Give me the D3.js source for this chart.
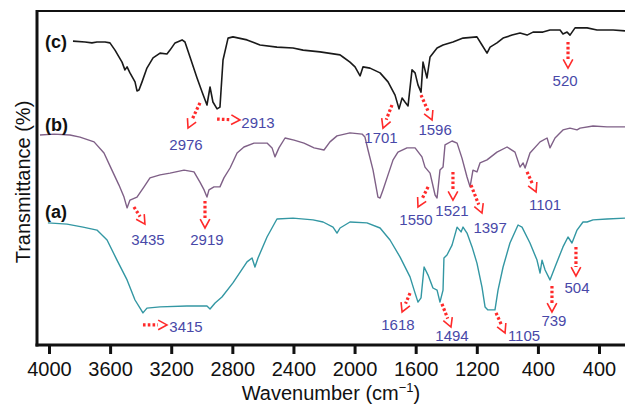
<!DOCTYPE html>
<html>
<head>
<meta charset="utf-8">
<script src="https://cdn.jsdelivr.net/npm/d3@7/dist/d3.min.js"></script>
<style>
  body { margin: 0; background: #fff; }
  svg { display: block; font-family: 'Liberation Sans', Arial, sans-serif; }
</style>
</head>
<body>
<div id="chart"></div>
<script>
// Spectra: [wavenumber, transmittance (offset, a.u.)]
var specC = [[3843,101.3],[3764,101.0],[3719,100.7],[3686,101.0],[3633,101.0],[3601,100.7],[3568,98.3],[3522,94.3],[3503,91.7],[3489,92.7],[3470,90.7],[3437,87.7],[3424,84.7],[3411,85.0],[3391,87.7],[3359,92.3],[3319,95.7],[3273,97.3],[3228,97.0],[3208,98.3],[3175,100.7],[3129,101.7],[3110,101.0],[3077,96.0],[3031,89.0],[2998,84.3],[2966,80.0],[2946,86.0],[2927,81.0],[2900,78.7],[2881,79.3],[2861,95.0],[2828,102.3],[2796,102.7],[2704,101.7],[2619,100.0],[2508,99.3],[2403,99.0],[2337,98.3],[2226,97.7],[2095,96.7],[2076,96.0],[2030,94.3],[1997,92.7],[1964,89.7],[1945,92.7],[1899,92.3],[1833,90.7],[1781,87.7],[1735,83.3],[1709,78.7],[1689,82.3],[1670,81.0],[1650,79.7],[1624,91.7],[1604,90.7],[1585,86.7],[1565,84.3],[1552,94.3],[1526,89.0],[1506,96.0],[1460,99.0],[1421,100.0],[1356,101.0],[1290,102.3],[1199,102.7],[1166,100.0],[1133,97.3],[1113,99.3],[1068,100.7],[1028,102.3],[969,103.3],[917,104.0],[871,103.3],[832,104.3],[767,104.3],[721,105.0],[655,105.0],[636,103.7],[609,104.3],[590,103.3],[557,105.7],[478,105.7],[413,105.0],[308,105.0],[230,104.7]];

var specB = [[4059,70.0],[3967,70.3],[3863,70.0],[3797,69.3],[3705,67.7],[3640,64.0],[3588,58.3],[3542,53.3],[3509,49.3],[3489,45.7],[3470,48.3],[3424,49.3],[3378,52.7],[3339,55.7],[3273,56.7],[3208,57.3],[3116,58.3],[3051,57.7],[3012,54.3],[2985,51.7],[2966,49.3],[2953,51.7],[2920,52.7],[2881,52.7],[2855,55.7],[2815,59.0],[2769,64.0],[2724,66.0],[2658,67.3],[2573,67.3],[2540,65.7],[2521,62.7],[2495,65.7],[2455,69.0],[2396,68.3],[2331,67.3],[2265,65.7],[2200,65.0],[2161,67.7],[2115,69.7],[2030,70.7],[1951,70.3],[1932,69.3],[1912,65.0],[1879,58.3],[1847,49.3],[1833,49.0],[1814,51.7],[1781,56.7],[1748,61.7],[1716,64.3],[1657,65.7],[1604,65.7],[1559,62.7],[1539,59.3],[1506,57.3],[1473,50.0],[1460,49.0],[1441,58.3],[1421,59.3],[1408,66.7],[1362,68.0],[1329,67.3],[1297,62.3],[1264,56.0],[1244,52.7],[1225,58.3],[1199,57.7],[1179,60.7],[1133,61.7],[1068,64.3],[1002,66.0],[950,64.3],[917,59.3],[897,60.7],[884,59.0],[852,64.0],[786,67.7],[740,69.0],[721,65.7],[688,69.0],[636,71.7],[590,72.3],[544,71.7],[524,72.3],[439,73.0],[348,72.7],[230,72.7]];

var specA = [[4007,40.7],[3882,40.3],[3777,39.3],[3686,38.3],[3620,35.0],[3555,28.3],[3489,21.7],[3437,15.0],[3404,12.3],[3385,10.7],[3359,12.3],[3273,12.7],[3097,13.0],[2966,13.0],[2946,12.0],[2913,14.0],[2868,16.0],[2796,20.7],[2704,27.7],[2671,29.0],[2652,26.0],[2632,29.0],[2573,36.0],[2508,42.0],[2403,42.3],[2272,41.7],[2206,41.0],[2141,39.3],[2115,37.3],[2095,39.0],[2030,41.0],[1919,40.7],[1833,39.0],[1768,35.0],[1702,29.3],[1637,22.7],[1604,17.3],[1585,14.3],[1565,15.7],[1545,26.0],[1519,23.3],[1487,19.0],[1460,18.3],[1441,14.3],[1421,18.3],[1415,29.0],[1395,30.0],[1362,33.3],[1329,39.3],[1303,37.7],[1290,39.3],[1264,37.3],[1231,32.7],[1199,27.3],[1166,19.3],[1146,12.7],[1127,11.7],[1081,11.7],[1061,18.3],[1028,26.0],[983,34.0],[930,40.0],[904,39.3],[852,34.0],[806,28.3],[786,24.0],[773,28.3],[753,25.0],[721,21.7],[688,26.0],[636,32.7],[603,36.0],[577,34.0],[544,38.3],[505,41.0],[478,41.0],[439,41.7],[348,42.0],[230,42.3]];

var seriesNames = ['(c)', '(b)', '(a)'];
var seriesNamePos = [[4026, 99.0], [4026, 71.3], [4026, 42.3]];

var tickValues = [4000, 3600, 3200, 2800, 2400, 2000, 1600, 1200, 800, 400];
var tickLabels = ['4000', '3600', '3200', '2800', '2400', '2000', '1600', '1200', '400', '400'];

// Peak markers: arrow start, arrow tip and label centre, in data units
var peaks = [
  {label: '2976', from: [3012, 80.7], to: [3090, 72.3], text: [3103, 66.7]},
  {label: '2913', from: [2900, 75.3], to: [2750, 75.0], text: [2632, 74.3]},
  {label: '1701', from: [1755, 80.0], to: [1814, 72.3], text: [1827, 69.3]},
  {label: '1596', from: [1565, 83.3], to: [1493, 75.0], text: [1473, 71.7]},
  {label: '520', from: [603, 101.0], to: [603, 92.3], text: [622, 88.3]},
  {label: '3435', from: [3444, 46.0], to: [3372, 40.3], text: [3352, 35.0]},
  {label: '2919', from: [2979, 48.0], to: [2979, 39.0], text: [2966, 35.3]},
  {label: '1550', from: [1519, 52.7], to: [1585, 46.0], text: [1598, 41.7]},
  {label: '1521', from: [1356, 57.7], to: [1356, 48.3], text: [1362, 44.7]},
  {label: '1397', from: [1238, 53.3], to: [1166, 44.0], text: [1113, 39.0]},
  {label: '1101', from: [871, 57.7], to: [812, 51.0], text: [753, 46.7]},
  {label: '3415', from: [3385, 6.7], to: [3228, 6.7], text: [3103, 6.3]},
  {label: '1618', from: [1637, 17.3], to: [1689, 11.0], text: [1716, 6.7]},
  {label: '1494', from: [1428, 13.7], to: [1369, 6.0], text: [1362, 3.3]},
  {label: '1105', from: [1074, 10.7], to: [1015, 4.0], text: [891, 3.0]},
  {label: '739', from: [708, 19.7], to: [708, 11.0], text: [695, 8.0]},
  {label: '504', from: [551, 32.7], to: [551, 23.0], text: [544, 19.3]}
];

var width = 625, height = 406;
var svg = d3.select('#chart').append('svg')
  .attr('width', width)
  .attr('height', height);

let x = d3.scaleLinear().domain([4078.5, 230]).range([37, 625]);
let y = d3.scaleLinear().domain([0, 100]).range([345, 45]);

let line = d3.line()
  .x(d => x(d[0]))
  .y(d => y(d[1]));

let colors = ['#1a1a1a', '#7f6087', '#3397a3'];
let specs = [specC, specB, specA];

svg.append('g')
  .selectAll('path')
  .data(specs)
  .enter()
  .append('path')
  .attr('d', line)
  .attr('fill', 'none')
  .attr('stroke', (d, i) => colors[i])
  .attr('stroke-width', (d, i) => i == 0 ? 1.6 : 1.4)
  .attr('stroke-linejoin', 'round');

svg.append('g')
  .selectAll('text')
  .data(seriesNames)
  .enter()
  .append('text')
  .attr('x', (d, i) => x(seriesNamePos[i][0]))
  .attr('y', (d, i) => y(seriesNamePos[i][1]))
  .attr('font-size', '18px')
  .attr('font-weight', 'bold')
  .attr('fill', '#111')
  .text(d => d);

// frame
let x0 = x.range()[0], x1 = x.range()[1];
svg.append('line')
  .attr('x1', x0).attr('x2', x1).attr('y1', 11).attr('y2', 11)
  .attr('stroke', '#111').attr('stroke-width', 2);
svg.append('line')
  .attr('x1', x0).attr('x2', x0).attr('y1', 10).attr('y2', 346.5)
  .attr('stroke', '#111').attr('stroke-width', 3);
svg.append('line')
  .attr('x1', x0 - 1.5).attr('x2', x1).attr('y1', 345).attr('y2', 345)
  .attr('stroke', '#111').attr('stroke-width', 3);

let x_axis = d3.axisBottom(x)
  .tickValues(tickValues)
  .tickFormat((d, i) => tickLabels[i])
  .tickSize(9)
  .tickPadding(8);
let gx = svg.append('g')
  .attr('transform', 'translate(0, 345)')
  .call(x_axis);
gx.select('.domain').remove();
gx.selectAll('.tick line').attr('stroke', '#111').attr('stroke-width', 3);
gx.selectAll('.tick text')
  .attr('font-size', '20px')
  .attr('font-family', "'Liberation Sans', Arial, sans-serif")
  .attr('fill', '#111');

let xt = svg.append('text')
  .attr('x', 331)
  .attr('y', 400)
  .attr('text-anchor', 'middle')
  .attr('font-size', '20px')
  .attr('fill', '#111');
xt.append('tspan').text('Wavenumber (cm');
xt.append('tspan').attr('font-size', '13px').attr('dy', -8).text('\u22121');
xt.append('tspan').attr('dy', 8).text(')');

svg.append('text')
  .attr('transform', 'translate(30, 182) rotate(-90)')
  .attr('text-anchor', 'middle')
  .attr('font-size', '20px')
  .attr('fill', '#111')
  .text('Transmittance (%)');

// peak arrows
let red = '#ff2a2a';
let ga = svg.append('g');
peaks.forEach(function(p) {
  let sx = x(p.from[0]), sy = y(p.from[1]);
  let tx = x(p.to[0]), ty = y(p.to[1]);
  let len = Math.hypot(tx - sx, ty - sy);
  let ux = (tx - sx) / len, uy = (ty - sy) / len;
  let ex = tx - ux * 9, ey = ty - uy * 9;
  ga.append('line')
    .attr('x1', sx).attr('y1', sy).attr('x2', ex).attr('y2', ey)
    .attr('stroke', red)
    .attr('stroke-width', 3.2)
    .attr('stroke-dasharray', '2.6,2.2');
  let a = Math.atan2(uy, ux), h = 10, s = 0.5;
  let p1 = [tx - h * Math.cos(a - s), ty - h * Math.sin(a - s)];
  let p2 = [tx - h * Math.cos(a + s), ty - h * Math.sin(a + s)];
  ga.append('path')
    .attr('d', `M${p1[0]},${p1[1]}L${tx},${ty}L${p2[0]},${p2[1]}`)
    .attr('fill', 'none')
    .attr('stroke', red)
    .attr('stroke-width', 1.6);
  ga.append('text')
    .attr('x', x(p.text[0]))
    .attr('y', y(p.text[1]))
    .attr('dy', '0.36em')
    .attr('text-anchor', 'middle')
    .attr('font-size', '15px')
    .attr('fill', '#4848a8')
    .text(p.label);
});
</script>
</body>
</html>
